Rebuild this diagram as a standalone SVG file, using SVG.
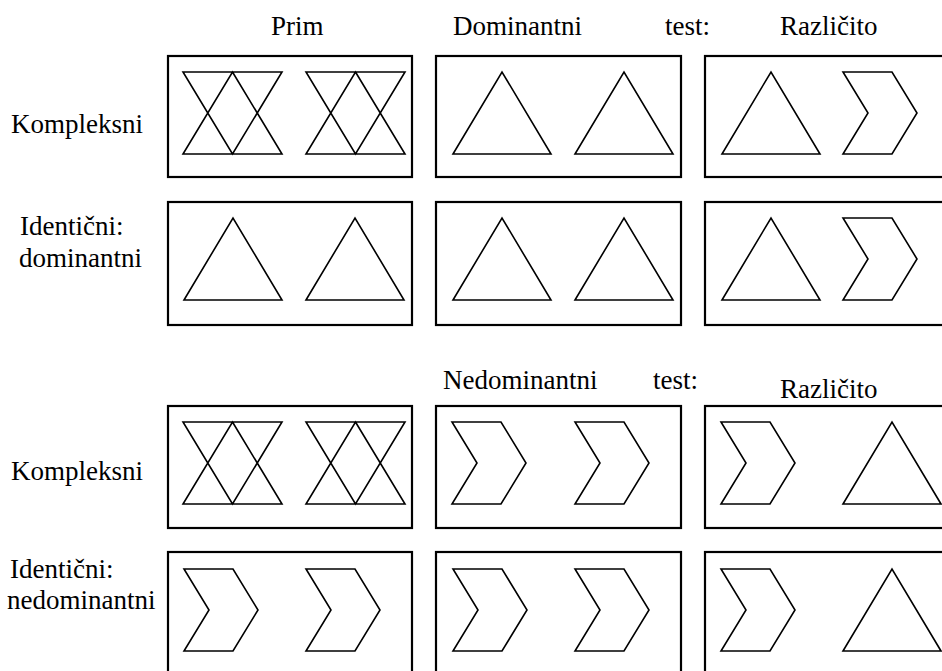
<svg xmlns="http://www.w3.org/2000/svg" xmlns:xlink="http://www.w3.org/1999/xlink" width="942" height="671" viewBox="0 0 942 671">
<style>
  .bg { fill: #ffffff; }
  .box { fill: #ffffff; stroke: #000000; stroke-width: 2.2; }
  .shp { fill: none; stroke: #000000; stroke-width: 1.6; stroke-linejoin: miter; }
  .lbl { font-family: "Liberation Serif", "Times New Roman", serif; font-size: 27px; fill: #000000; }
</style>
<defs>
  <polygon id="tri" class="shp" points="0,82 49,0 98,82"/>
  <polygon id="chev" class="shp" points="0,0 49,0 74,41 49,82 0,82 25,41"/>
  <path id="hg" class="shp" d="M0,0 H99 L49.5,82 Z M49.5,0 L99,82 H0 Z"/>
</defs>
<rect class="bg" x="0" y="0" width="942" height="671"/>

<g id="headers">
  <text class="lbl" x="271" y="35">Prim</text>
  <text class="lbl" x="453" y="35">Dominantni</text>
  <text class="lbl" x="665" y="35">test:</text>
  <text class="lbl" x="780" y="35">Različito</text>
  <text class="lbl" x="443" y="389">Nedominantni</text>
  <text class="lbl" x="653" y="389">test:</text>
  <text class="lbl" x="780" y="398">Različito</text>
</g>

<g id="row-labels">
  <text class="lbl" x="11" y="133">Kompleksni</text>
  <text class="lbl" x="20" y="235">Identični:</text>
  <text class="lbl" x="19" y="267">dominantni</text>
  <text class="lbl" x="11" y="480">Kompleksni</text>
  <text class="lbl" x="10" y="578">Identični:</text>
  <text class="lbl" x="7" y="609">nedominantni</text>
</g>

<g id="r1c1"><rect class="box" x="168" y="56" width="244" height="121"/><use href="#hg" x="183" y="72"/><use href="#hg" x="306" y="72"/></g>
<g id="r1c2"><rect class="box" x="436" y="56" width="245" height="121"/><use href="#tri" x="453" y="72"/><use href="#tri" x="575" y="72"/></g>
<g id="r1c3"><rect class="box" x="705" y="56" width="245" height="121"/><use href="#tri" x="722" y="72"/><use href="#chev" x="843" y="72"/></g>

<g id="r2c1"><rect class="box" x="168" y="202" width="244" height="123"/><use href="#tri" x="184" y="218"/><use href="#tri" x="306" y="218"/></g>
<g id="r2c2"><rect class="box" x="436" y="202" width="245" height="123"/><use href="#tri" x="453" y="218"/><use href="#tri" x="575" y="218"/></g>
<g id="r2c3"><rect class="box" x="705" y="202" width="245" height="123"/><use href="#tri" x="722" y="218"/><use href="#chev" x="843" y="218"/></g>

<g id="r3c1"><rect class="box" x="168" y="406" width="244" height="122"/><use href="#hg" x="183" y="422"/><use href="#hg" x="306" y="422"/></g>
<g id="r3c2"><rect class="box" x="436" y="406" width="245" height="122"/><use href="#chev" x="452" y="422"/><use href="#chev" x="575" y="422"/></g>
<g id="r3c3"><rect class="box" x="705" y="406" width="245" height="122"/><use href="#chev" x="721" y="422"/><use href="#tri" x="843" y="422"/></g>

<g id="r4c1"><rect class="box" x="168" y="552" width="244" height="124"/><use href="#chev" x="184" y="569"/><use href="#chev" x="306" y="569"/></g>
<g id="r4c2"><rect class="box" x="436" y="552" width="245" height="124"/><use href="#chev" x="453" y="569"/><use href="#chev" x="575" y="569"/></g>
<g id="r4c3"><rect class="box" x="705" y="552" width="245" height="124"/><use href="#chev" x="721" y="569"/><use href="#tri" x="843" y="569"/></g>

<g id="connectors"></g>
</svg>
